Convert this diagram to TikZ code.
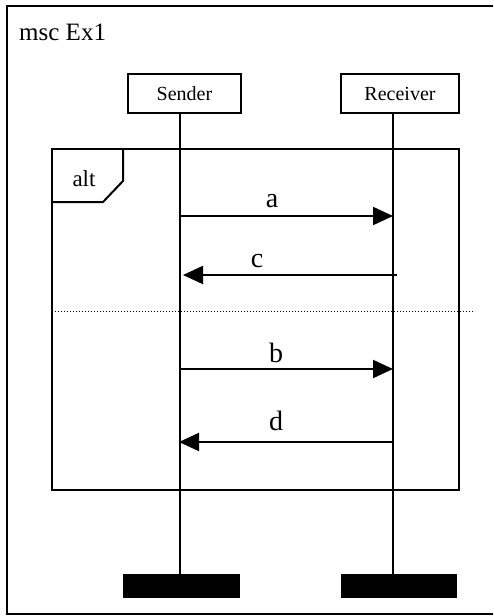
\documentclass[tikz,border=0pt]{standalone}
\usepackage{fontspec}
\setmainfont{Liberation Serif}
\usetikzlibrary{arrows.meta}
\begin{document}
\begin{tikzpicture}[x=1pt,y=-1pt,
  frame/.style={draw,line width=2pt},
  inst/.style={draw,line width=1.6pt,minimum width=113pt,minimum height=39pt,inner sep=0pt,font=\fontsize{20}{20}\selectfont},
  endbar/.style={fill=black,draw=black,minimum width=116pt,minimum height=23pt,inner sep=0pt},
  life/.style={line width=2pt},
  msg/.style={line width=2pt,-{Triangle[length=20pt,width=18pt]}},
  lbl/.style={font=\fontsize{28}{28}\selectfont,inner sep=0pt,anchor=base}]
\useasboundingbox (0,0) rectangle (493,616);
\clip (0,0) rectangle (493,616);
\fill[white] (0,0) rectangle (493,616);
% outer frame
\draw[frame] (7,6) rectangle (520,614);
\node[anchor=base west,inner sep=0pt,font=\fontsize{25}{25}\selectfont] (title) at (19,40) {msc Ex1};
% instances
\node[inst] (snd) at (184.5,93.5) {Sender};
\node[inst,minimum width=118pt] (rcv) at (400,93.5) {Receiver};
\node[endbar] (sbar) at (181,585.5) {};
\node[endbar,minimum width=115pt] (rbar) at (398.5,585.5) {};
\coordinate (sTop) at (180,113);
\coordinate (sBot) at (180,574);
\coordinate (rTop) at (393,113);
\coordinate (rBot) at (393,574);
% alt frame
\draw[frame] (52,149) rectangle (459,490);
\draw[frame] (52,202) -- (103,202) -- (123,181) -- (123,149);
\node[anchor=base,inner sep=0pt,font=\fontsize{23}{23}\selectfont] (alt) at (84,186) {alt};
% lifelines
\draw[life] (sTop) -- (sBot);
\draw[life] (rTop) -- (rBot);
% separator
\draw[line width=1pt,dash pattern=on 1pt off 2pt] (52,311) -- (473,311);
% messages
\coordinate (a1) at (180,216); \coordinate (a2) at (393,216);
\coordinate (c1) at (397,275); \coordinate (c2) at (183,275);
\coordinate (b1) at (180,369); \coordinate (b2) at (393,369);
\coordinate (d1) at (393,442); \coordinate (d2) at (179,442);
\draw[msg] (a1) -- (a2);
\draw[msg] (c1) -- (c2);
\draw[msg] (b1) -- (b2);
\draw[msg] (d1) -- (d2);
\node[lbl] (la) at (272,207) {a};
\node[lbl] (lc) at (257,267) {c};
\node[lbl] (lb) at (276,362) {b};
\node[lbl] (ld) at (276,430) {d};
\end{tikzpicture}
\end{document}
